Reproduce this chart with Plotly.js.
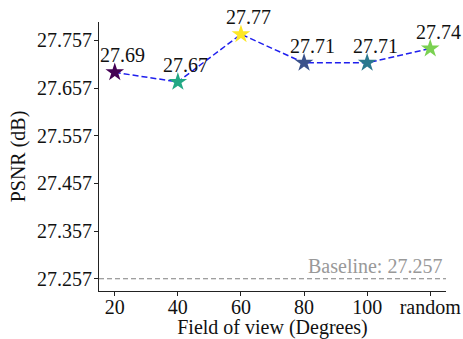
<!DOCTYPE html>
<html><head><meta charset="utf-8">
<script src="https://cdn.plot.ly/plotly-3.0.1.min.js"></script>
<style>body{margin:0;padding:0;background:#fff}#chart{width:463px;height:339px}</style>
</head><body><div id="chart"></div>
<script>
const categories = ["20", "40", "60", "80", "100", "random"];
const psnr = [27.69, 27.67, 27.77, 27.71, 27.71, 27.74];
const markerColors = ["#440154", "#22a884", "#fde725", "#3b528b", "#2a788e", "#7ad151"];
const baseline = 27.257;
const yTickVals = [27.257, 27.357, 27.457, 27.557, 27.657, 27.757];

const font = "Liberation Serif";

const trace = {
  x: categories, y: psnr, type: "scatter", mode: "lines+markers",
  line: {color: "#1f1fee", dash: "6px,3px", width: 1.5},
  marker: {symbol: "star", size: 14, color: markerColors, line: {width: 0}},
  cliponaxis: false, hoverinfo: "skip"
};

const labelAnnotations = categories.map((c, i) => ({
  x: i, y: psnr[i], xref: "x", yref: "y", text: psnr[i].toFixed(2),
  showarrow: false, xanchor: "center", yanchor: "bottom", xshift: 8, yshift: 4,
  font: {family: font, size: 20, color: "#111"}
}));

const layout = {
  width: 463, height: 339,
  margin: {l: 99, r: 17, t: 22, b: 48},
  paper_bgcolor: "#fff", plot_bgcolor: "#fff",
  showlegend: false,
  font: {family: font, size: 20, color: "#111"},
  xaxis: {
    type: "category", range: [-0.25, 5.25], showgrid: false, zeroline: false,
    showline: true, linecolor: "#222", linewidth: 1,
    ticks: "outside", ticklen: 4, tickcolor: "#222", ticklabelstandoff: -6,
    tickfont: {family: font, size: 20, color: "#111"},
    title: {text: "Field of view (Degrees)", font: {family: font, size: 20, color: "#111"}, standoff: 6}
  },
  yaxis: {
    range: [27.2313, 27.7957], showgrid: false, zeroline: false,
    showline: true, linecolor: "#222", linewidth: 1,
    ticks: "outside", ticklen: 4, tickcolor: "#222", ticklabelstandoff: -2,
    tickvals: yTickVals, ticktext: yTickVals.map(v => v.toFixed(3)),
    tickfont: {family: font, size: 20, color: "#111"},
    title: {text: "PSNR (dB)", font: {family: font, size: 20, color: "#111"}, standoff: 6}
  },
  shapes: [{type: "line", xref: "paper", x0: 0, x1: 1, yref: "y", y0: baseline, y1: baseline,
    line: {color: "#808080", width: 1.2, dash: "5px,3px"}}],
  annotations: labelAnnotations.concat([{xref: "paper", x: 1, yref: "y", y: baseline, xanchor: "right", yanchor: "bottom",
    text: "Baseline: " + baseline, showarrow: false, xshift: -2, yshift: 0,
    font: {family: font, size: 20, color: "#999999"}}])
};

Plotly.newPlot("chart", [trace], layout, {displayModeBar: false, staticPlot: true});
</script></body></html>
